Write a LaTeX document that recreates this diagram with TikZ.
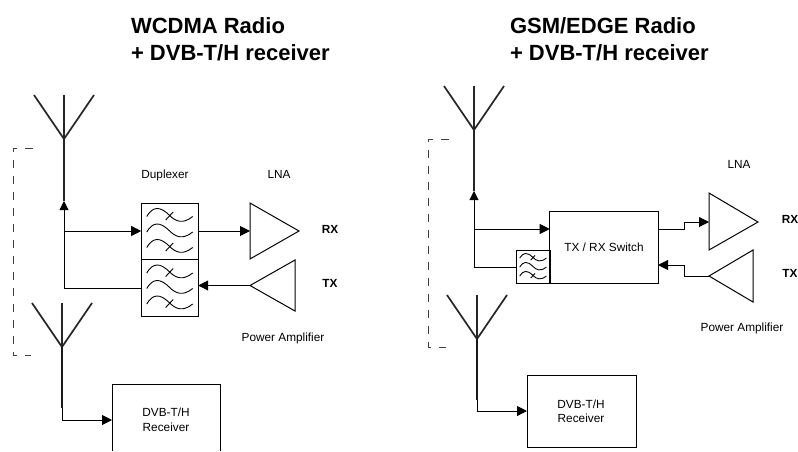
\documentclass[tikz,border=0pt]{standalone}
\usepackage{fontspec}
\setmainfont{Liberation Sans}
\usetikzlibrary{arrows.meta}
\tikzset{
  x=1pt,y=-1pt,
  lbl/.style={inner sep=0pt,outer sep=0pt,anchor=base,font=\fontsize{11.8}{14}\selectfont},
  sig/.style={inner sep=0pt,outer sep=0pt,anchor=base,font=\fontsize{11.8}{14}\selectfont\bfseries},
  ttl/.style={inner sep=0pt,outer sep=0pt,anchor=base west,font=\fontsize{22}{27}\selectfont\bfseries},
  boxn/.style={draw=black,line width=1pt,inner sep=0pt,outer sep=0pt},
  wire/.style={draw=black,line width=1pt},
  mast/.style={draw=black!90,line width=2.4pt},
  arm/.style={draw=black!85,line width=1.7pt},
  amp/.style={draw=black,line width=1pt,line join=miter},
  arr/.style={wire,-{Triangle[length=10pt,width=10pt]}},
  uparr/.style={wire,-{Triangle[length=9pt,width=9pt]}},
  dashbox/.style={draw=black!75,line width=1pt,dash pattern=on 8pt off 8pt},
  wave/.style={line width=.9pt,black},
  pics/waves/.style={code={
    \foreach \d in {-15.5,0,15.5}{
      \draw[wave,shift={(0,\d)}] (-23,1) .. controls (-17,-9) and (-10,-10) .. (0,0) .. controls (6,6) and (13,9) .. (23,1);
    }
    \draw[wave] (-4,-11) -- (3.5,-19);
    \draw[wave] (-4,20) -- (3.5,12);
  }}
}
\begin{document}
\begin{tikzpicture}
\useasboundingbox (0,0) rectangle (798,451);
% titles
\node[ttl] (t1a) at (131,33) {WCDMA Radio};
\node[ttl] (t1b) at (131,60) {+ DVB-T/H receiver};
\node[ttl] (t2a) at (510,33) {GSM/EDGE Radio};
\node[ttl] (t2b) at (510,60) {+ DVB-T/H receiver};

% ---------- left ----------
\coordinate (a1tip) at (64,139);
\coordinate (a1top) at (64,95);
\coordinate (a1l) at (34,95);
\coordinate (a1r) at (94,95);
\coordinate (a1foot) at (64,201);
\coordinate (a1low) at (64,288);
\coordinate (a1br) at (64,231);
\draw[arm] (a1l) -- (a1tip) -- (a1r);
\draw[arm] (a1top) -- (a1foot);
\node[boxn,minimum width=57pt,minimum height=56pt] (dup1) at (169.7,231) {};
\node[boxn,minimum width=57pt,minimum height=57pt] (dup2) at (169.7,287.5) {};
\pic at (dup1.center) {waves};
\pic at (dup2.center) {waves};
\draw[uparr] (a1low) -- (a1foot);
\draw[wire] (a1low) -- (dup2.west |- a1low);
\draw[arr] (a1br) -- (dup1.west |- a1br);
\coordinate (lnaL1) at (250,231);
\draw[amp] (250,203) -- (299,231) -- (250,259) -- cycle;
\draw[arr] (dup1.east |- lnaL1) -- (lnaL1);
\coordinate (paL1) at (250,285.5);
\draw[amp] (paL1) -- (295,260) -- (295,311) -- cycle;
\draw[arr] (paL1) -- (dup2.east |- paL1);
\node[lbl] (dupl) at (165,178) {Duplexer};
\node[lbl] (lna1) at (279,178) {LNA};
\node[sig] (rx1) at (330,233) {RX};
\node[sig] (tx1) at (330,287) {TX};
\node[lbl] (pa1) at (283,341) {Power Amplifier};
\coordinate (d1a) at (33,148);
\coordinate (d1b) at (13,148);
\coordinate (d1c) at (13,355.6);
\coordinate (d1d) at (31,355.6);
\draw[dashbox] (d1a) -- (d1b) -- (d1c) -- (d1d);
\coordinate (b1tip) at (62,347);
\coordinate (b1top) at (62,303);
\coordinate (b1l) at (32,303);
\coordinate (b1r) at (92,303);
\coordinate (b1foot) at (62,408);
\coordinate (b1corner) at (62,420);
\draw[arm] (b1l) -- (b1tip) -- (b1r);
\draw[arm] (b1top) -- (b1tip);
\draw[mast] (b1tip) -- (b1foot);
\coordinate (rc1w) at (112,420);
\draw[boxn] (112,451) -- (112,384) -- (220,384) -- (220,451);
\draw[arr] (b1foot) -- (b1corner) -- (rc1w);
\node[lbl] (rc1a) at (166,416) {DVB-T/H};
\node[lbl] (rc1b) at (166,431) {Receiver};

% ---------- right ----------
\coordinate (a2tip) at (474,130);
\coordinate (a2top) at (474,86);
\coordinate (a2l) at (444,86);
\coordinate (a2r) at (504,86);
\coordinate (a2foot) at (474,191);
\coordinate (a2low) at (474,267);
\coordinate (a2br) at (474,229);
\draw[arm] (a2l) -- (a2tip) -- (a2r);
\draw[arm] (a2top) -- (a2foot);
\node[boxn,minimum width=108.3pt,minimum height=72pt] (sw) at (603.85,247) {};
\node[lbl] (swl) at (604,251) {TX / RX Switch};
\node[boxn,minimum width=34pt,minimum height=33pt] (flt) at (533,266.5) {};
\pic[scale=.58] at (flt.center) {waves};
\draw[uparr] (a2low) -- (a2foot);
\draw[wire] (a2low) -- (flt.west |- a2low);
\draw[arr] (a2br) -- (sw.west |- a2br);
\coordinate (lnaL2) at (709,222);
\draw[amp] (709,193) -- (758,222) -- (709,250) -- cycle;
\draw[arr] (658,229) -- (684,229) -- (684,222) -- (lnaL2);
\coordinate (paL2) at (709,276);
\draw[amp] (paL2) -- (753,250) -- (753,302) -- cycle;
\draw[arr] (paL2) -- (684,276) -- (684,265) -- (658,265);
\node[lbl] (lna2) at (739,168) {LNA};
\node[sig] (rx2) at (790,223) {RX};
\node[sig] (tx2) at (790,277) {TX};
\node[lbl] (pa2) at (742,331) {Power Amplifier};
\coordinate (d2a) at (449,139);
\coordinate (d2b) at (428,139);
\coordinate (d2c) at (428,347);
\coordinate (d2d) at (446,347);
\draw[dashbox] (d2a) -- (d2b) -- (d2c) -- (d2d);
\coordinate (b2tip) at (477,339);
\coordinate (b2top) at (477,295);
\coordinate (b2l) at (447,295);
\coordinate (b2r) at (507,295);
\coordinate (b2foot) at (477,400);
\coordinate (b2corner) at (477,411);
\draw[arm] (b2l) -- (b2tip) -- (b2r);
\draw[arm] (b2top) -- (b2tip);
\draw[mast] (b2tip) -- (b2foot);
\node[boxn,minimum width=109pt,minimum height=72pt] (rc2) at (581.5,411) {};
\draw[arr] (b2foot) -- (b2corner) -- (rc2.west);
\node[lbl] (rc2a) at (581,408) {DVB-T/H};
\node[lbl] (rc2b) at (581,422) {Receiver};
\end{tikzpicture}
\end{document}
